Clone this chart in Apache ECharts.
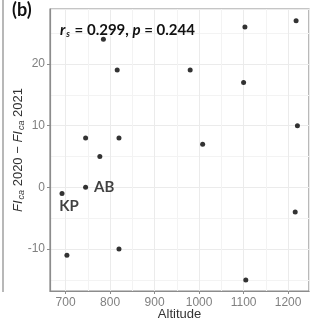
<!DOCTYPE html>
<html>
<head>
<meta charset="UTF-8">
<title>Altitude scatter</title>
<script src="https://cdn.jsdelivr.net/npm/echarts@6/dist/echarts.min.js"></script>
<style>
  html, body { margin: 0; padding: 0; background: #fff; }
  #main { width: 320px; height: 320px; }
</style>
</head>
<body>
<div id="main"></div>
<script type="text/javascript">
// data
var altitude = [692, 745, 703, 820, 785, 816, 745, 820, 777, 1103, 1218, 980, 1100, 1221, 1008, 1216, 1105];
var fiDiff   = [-1, 0, -11, -10, 24, 19, 8, 8, 5, 26, 27, 19, 17, 10, 7, -4, -15];
var siteTags = ['KP', 'AB', '', '', '', '', '', '', '', '', '', '', '', '', '', '', ''];

var myChart = echarts.init(document.getElementById('main'));

var points = altitude.map(function (a, i) {
    var item = { value: [a, fiDiff[i]] };
    if (siteTags[i] === 'KP') {
        item.label = { show: true, formatter: 'KP', position: 'bottom', offset: [7, -2] };
    } else if (siteTags[i] === 'AB') {
        item.label = { show: true, formatter: 'AB', position: 'right', distance: 6 };
    }
    return item;
});

var gridGray = '#ebebeb';
var axisGray = '#8c8c8c';
var plain = function (v) { return String(v); };

myChart.setOption({
    animation: false,
    backgroundColor: '#fff',
    title: {
        left: 60, top: 20, padding: 0,
        text: '{i|r}{sub|s}{t| = 0.299, }{i|p}{t| = 0.244}',
        textStyle: {
            rich: {
                i: { fontFamily: 'Lato', fontWeight: 'bold', fontStyle: 'italic', fontSize: 15, color: '#111', lineHeight: 20 },
                sub: { fontFamily: 'Lato', fontWeight: 'bold', fontStyle: 'italic', fontSize: 9, color: '#111', lineHeight: 20, padding: [9, 1, 0, 1] },
                t: { fontFamily: 'Lato', fontWeight: 'bold', fontSize: 15, color: '#111', lineHeight: 20 }
            }
        }
    },
    grid: {
        left: 50, top: 9, right: 11, bottom: 29,
        containLabel: false, outerBoundsMode: 'none',
        show: true, borderColor: axisGray, borderWidth: 1.2
    },
    xAxis: {
        type: 'value',
        min: 665, max: 1247,
        name: 'Altitude',
        nameLocation: 'middle',
        nameGap: 17,
        nameMoveOverlap: false,
        nameTextStyle: { color: '#333', fontSize: 13, fontFamily: 'Liberation Sans' },
        axisLine: { show: true, onZero: false, lineStyle: { color: axisGray, width: 1.2 } },
        axisTick: { show: true, length: 3, lineStyle: { color: axisGray } },
        axisLabel: { color: '#808080', fontSize: 12, fontFamily: 'Liberation Sans', margin: 6,
                     formatter: plain, showMinLabel: false, showMaxLabel: false },
        splitLine: { show: true, lineStyle: { color: gridGray, width: 1 } },
        minorTick: { show: false, splitNumber: 2 },
        minorSplitLine: { show: true, lineStyle: { color: '#f3f3f3', width: 1 } }
    },
    yAxis: {
        type: 'value',
        min: -16.8, max: 28.9,
        axisLine: { show: true, onZero: false, lineStyle: { color: axisGray, width: 1.2 } },
        axisTick: { show: true, length: 3, lineStyle: { color: axisGray } },
        axisLabel: { color: '#808080', fontSize: 12, fontFamily: 'Liberation Sans', margin: 5,
                     formatter: plain, showMinLabel: false, showMaxLabel: false },
        splitLine: { show: true, lineStyle: { color: gridGray, width: 1 } },
        minorTick: { show: false, splitNumber: 2 },
        minorSplitLine: { show: true, lineStyle: { color: '#f3f3f3', width: 1 } }
    },
    graphic: [
        {
            type: 'line',
            shape: { x1: 3, y1: 0, x2: 3, y2: 292 },
            style: { stroke: '#a0a0a0', lineWidth: 1.5 }
        },
        {
            type: 'text', x: 12, y: 10,
            style: { text: '(b)', fill: '#111', font: 'bold 18px Lato', align: 'left', verticalAlign: 'middle' }
        },
        {
            type: 'text', x: 18, y: 150, rotation: Math.PI / 2,
            style: {
                text: '{i|FI}{sub|ca}{t| 2020 \u2212 }{i|FI}{sub|ca}{t| 2021}',
                align: 'center', verticalAlign: 'middle',
                rich: {
                    i: { fontFamily: 'Liberation Sans', fontStyle: 'italic', fontSize: 13, fill: '#333', lineHeight: 16 },
                    sub: { fontFamily: 'Liberation Sans', fontStyle: 'italic', fontSize: 9, fill: '#333', padding: [7, 0, 0, 1], lineHeight: 16 },
                    t: { fontFamily: 'Liberation Sans', fontSize: 13, fill: '#333', lineHeight: 16 }
                }
            }
        }
    ],
    series: [
        {
            type: 'scatter',
            symbol: 'circle',
            symbolSize: 5,
            itemStyle: { color: '#000' },
            label: {
                show: false,
                color: '#111', fontSize: 15, fontWeight: 'bold', fontFamily: 'Lato'
            },
            data: points
        }
    ]
});
</script>
</body>
</html>
